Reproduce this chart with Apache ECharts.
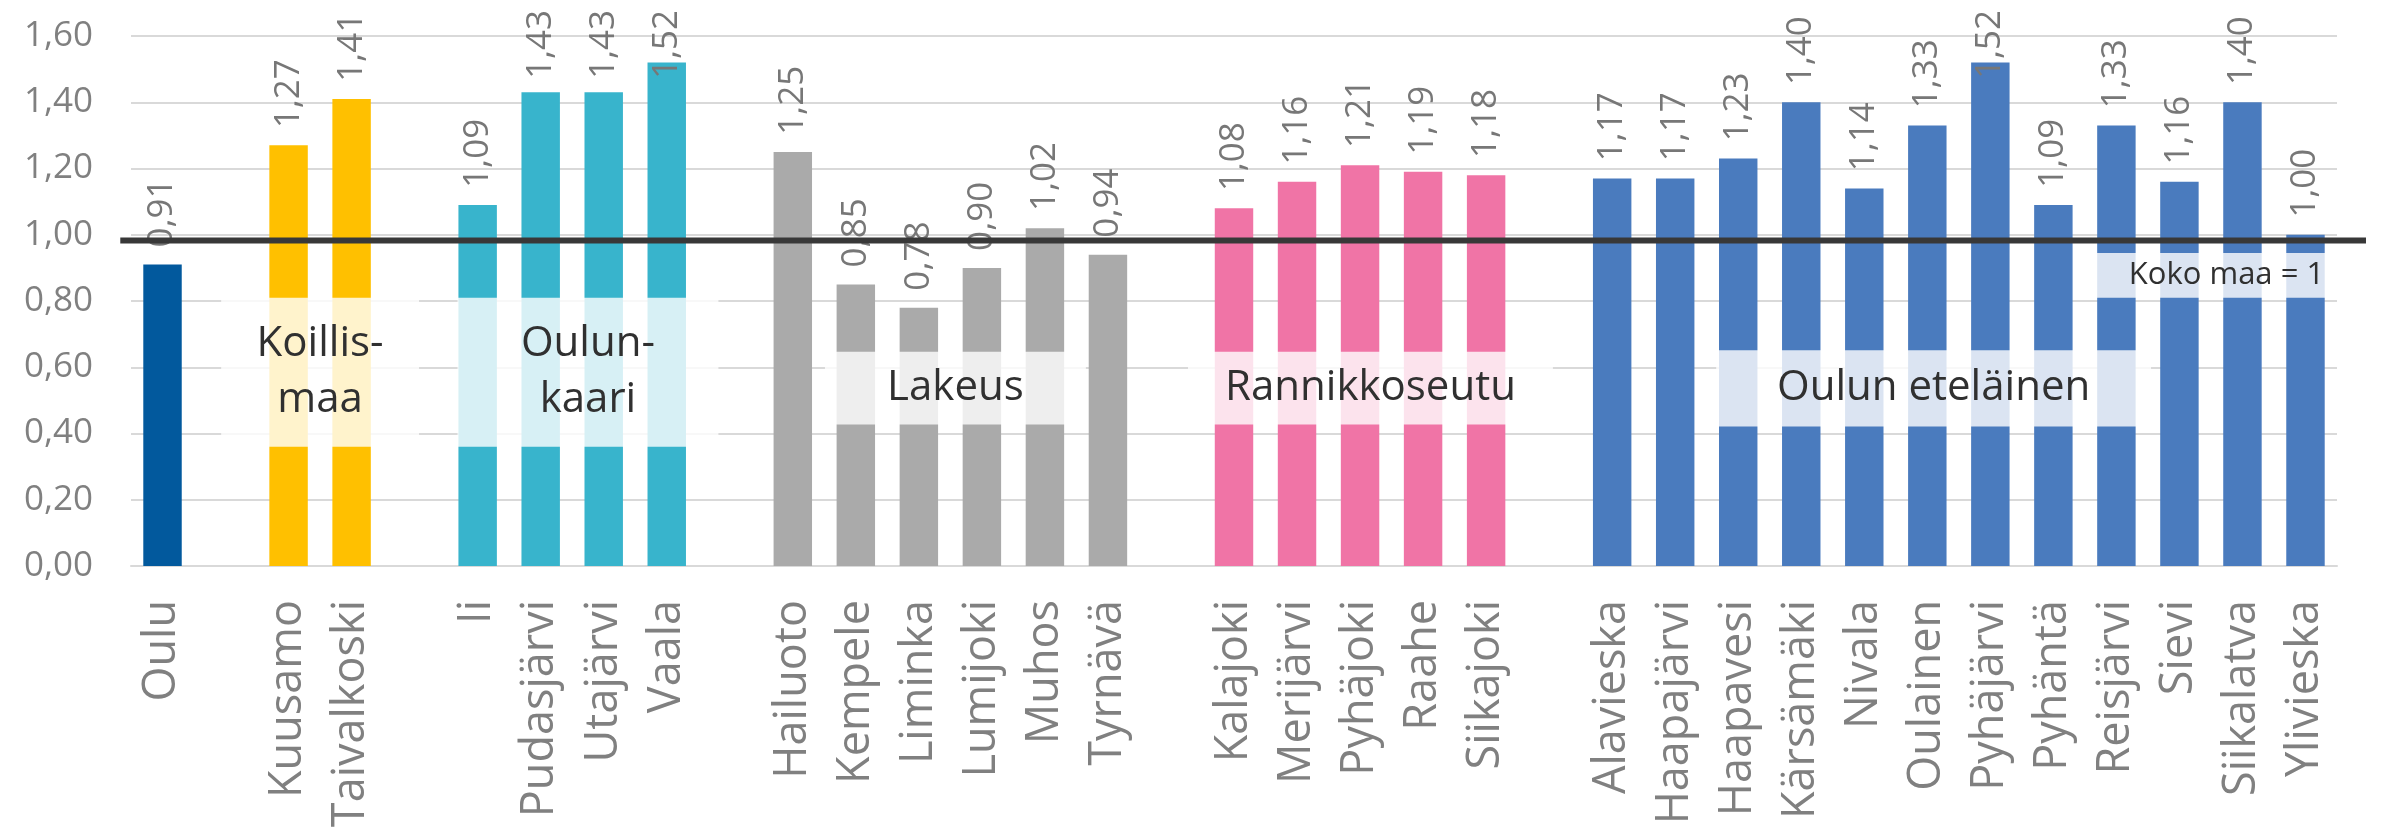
<!DOCTYPE html>
<html>
<head>
<meta charset="utf-8">
<script src="https://cdn.jsdelivr.net/npm/echarts@6/dist/echarts.min.js"></script>
<style>
  html, body { margin: 0; padding: 0; background: #fff; }
  #chart { width: 2385px; height: 836px; }
</style>
</head>
<body>
<div id="chart"></div>
<script>
// municipalities per sub-region
const ouluNames = ['Oulu']
const ouluValues = [0.91]
const koillismaaNames = ['Kuusamo', 'Taivalkoski']
const koillismaaValues = [1.27, 1.41]
const oulunkaariNames = ['Ii', 'Pudasjärvi', 'Utajärvi', 'Vaala']
const oulunkaariValues = [1.09, 1.43, 1.43, 1.52]
const lakeusNames = ['Hailuoto', 'Kempele', 'Liminka', 'Lumijoki', 'Muhos', 'Tyrnävä']
const lakeusValues = [1.25, 0.85, 0.78, 0.90, 1.02, 0.94]
const rannikkoNames = ['Kalajoki', 'Merijärvi', 'Pyhäjoki', 'Raahe', 'Siikajoki']
const rannikkoValues = [1.08, 1.16, 1.21, 1.19, 1.18]
const etelainenNames = ['Alavieska', 'Haapajärvi', 'Haapavesi', 'Kärsämäki', 'Nivala', 'Oulainen',
  'Pyhäjärvi', 'Pyhäntä', 'Reisjärvi', 'Sievi', 'Siikalatva', 'Ylivieska']
const etelainenValues = [1.17, 1.17, 1.23, 1.40, 1.14, 1.33, 1.52, 1.09, 1.33, 1.16, 1.40, 1.00]
const nationalLevel = 0.983
const yTicks = [0, 0.2, 0.4, 0.6, 0.8, 1.0, 1.2, 1.4, 1.6]

const groups = [
  { names: ouluNames, values: ouluValues, color: '#02599D' },
  { names: koillismaaNames, values: koillismaaValues, color: '#FFC000' },
  { names: oulunkaariNames, values: oulunkaariValues, color: '#38B4CC' },
  { names: lakeusNames, values: lakeusValues, color: '#AAAAAA' },
  { names: rannikkoNames, values: rannikkoValues, color: '#F074A6' },
  { names: etelainenNames, values: etelainenValues, color: '#4A7BBE' }
]

// category list with one empty slot between regions
const categories = []
const startIndex = []
const labelPoints = []
groups.forEach((g, i) => {
  if (i > 0) categories.push('')
  startIndex.push(categories.length)
  g.names.forEach((n, k) => {
    labelPoints.push([categories.length, g.values[k]])
    categories.push(n)
  })
})

// text boxes, x in slot units from the axis start, y in axis values
const boxes = [
  { text: 'Koillis-\nmaa', from: 1.43, to: 4.57, top: 0.81, bottom: 0.36, size: 42 },
  { text: 'Oulun-\nkaari', from: 5.18, to: 9.32, top: 0.81, bottom: 0.36, size: 42 },
  { text: 'Lakeus', from: 11.01, to: 15.15, top: 0.647, bottom: 0.427, size: 42 },
  { text: 'Rannikkoseutu', from: 16.77, to: 22.56, top: 0.647, bottom: 0.427, size: 42 },
  { text: 'Oulun eteläinen', from: 25.15, to: 32.05, top: 0.651, bottom: 0.421, size: 42 },
  { text: 'Koko maa = 1', from: 31.0, to: 35.05, top: 0.945, bottom: 0.81, size: 31, align: 'right' }
]

const fmt = v => v.toFixed(2).replace('.', ',')
const FONT = '"Open Sans", "Noto Sans", sans-serif'
const LABEL_GAP = 17
const LABEL_LEN = 70
const TOP_LIMIT = 9

const barSeries = groups.map((g, gi) => {
  const data = categories.map(() => null)
  g.values.forEach((v, k) => { data[startIndex[gi] + k] = v })
  return {
    type: 'bar',
    data: data,
    barWidth: '61%',
    barGap: '-100%',
    itemStyle: { color: g.color },
    z: 2
  }
})

// value labels, rotated, pushed down when they would leave the picture
const valueLabelSeries = {
  type: 'custom',
  coordinateSystem: 'cartesian2d',
  silent: true,
  clip: false,
  z: 3,
  data: labelPoints,
  renderItem: (params, api) => {
    const p = api.coord([api.value(0), api.value(1)])
    let y = p[1] - LABEL_GAP
    if (y - LABEL_LEN < TOP_LIMIT) y = TOP_LIMIT + LABEL_LEN
    return {
      type: 'text',
      x: p[0],
      y: y,
      rotation: Math.PI / 2,
      style: {
        text: fmt(api.value(1)),
        fontFamily: FONT,
        fontSize: 35,
        fill: '#777777',
        align: 'left',
        verticalAlign: 'middle'
      }
    }
  }
}

function slotX(api, u) {
  const slot = api.size([1, 0])[0]
  return api.coord([0, 0])[0] - slot / 2 + u * slot
}

const boxSeries = {
  type: 'custom',
  coordinateSystem: 'cartesian2d',
  silent: true,
  clip: false,
  z: 4,
  data: boxes.map(() => [0, 0]),
  renderItem: (params, api) => {
    const b = boxes[params.dataIndex]
    const xa = slotX(api, b.from)
    const xb = slotX(api, b.to)
    const yt = api.coord([0, b.top])[1]
    const yb = api.coord([0, b.bottom])[1]
    return {
      type: 'group',
      children: [
        {
          type: 'rect',
          shape: { x: xa, y: yt, width: xb - xa, height: yb - yt },
          style: { fill: 'rgba(255,255,255,0.8)' }
        },
        {
          type: 'text',
          x: b.align === 'right' ? xb - 16 : (xa + xb) / 2,
          y: (yt + yb) / 2,
          style: {
            text: b.text,
            fontFamily: FONT,
            fontSize: b.size,
            lineHeight: 56,
            fill: '#303030',
            align: b.align || 'center',
            verticalAlign: 'middle'
          }
        }
      ]
    }
  }
}

const lineSeries = {
  type: 'custom',
  coordinateSystem: 'cartesian2d',
  silent: true,
  clip: false,
  z: 10,
  data: [[0, nationalLevel]],
  renderItem: (params, api) => {
    const y = api.coord([0, api.value(1)])[1]
    return {
      type: 'line',
      shape: { x1: slotX(api, -0.17), y1: y, x2: slotX(api, 35.46), y2: y },
      style: { stroke: '#383838', lineWidth: 6 }
    }
  }
}

const chart = echarts.init(document.getElementById('chart'))
chart.setOption({
  animation: false,
  backgroundColor: '#ffffff',
  grid: { left: 131, right: 48, top: 36, bottom: 270 },
  xAxis: {
    type: 'category',
    data: categories,
    axisTick: { show: false },
    axisLine: { lineStyle: { color: '#D9D9D9', width: 2 } },
    axisLabel: {
      interval: 0,
      rotate: 90,
      margin: 34,
      fontFamily: FONT,
      fontSize: 45,
      color: '#808080'
    }
  },
  yAxis: {
    type: 'value',
    min: yTicks[0],
    max: yTicks[yTicks.length - 1],
    interval: yTicks[1] - yTicks[0],
    axisLine: { show: false },
    axisTick: { show: false },
    splitLine: { lineStyle: { color: '#D9D9D9', width: 2 } },
    axisLabel: {
      margin: 38,
      fontFamily: FONT,
      fontSize: 35,
      color: '#808080',
      formatter: v => fmt(v)
    }
  },
  series: [...barSeries, valueLabelSeries, boxSeries, lineSeries]
})
</script>
</body>
</html>
